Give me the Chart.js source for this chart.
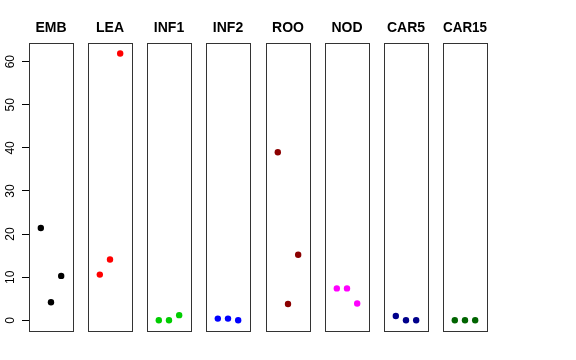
<!DOCTYPE html>
<html>
<head>
<meta charset="utf-8">
<script src="https://cdn.jsdelivr.net/npm/chart.js@4"></script>
<style>
  body { margin: 0; background: #fff; }
  #wrap { position: relative; width: 576px; height: 360px; }
  .panel { position: absolute; top: 0; }
</style>
</head>
<body>
<div id="wrap"></div>
<script>
// data
const groups = ['EMB', 'LEA', 'INF1', 'INF2', 'ROO', 'NOD', 'CAR5', 'CAR15'];
const colors = ['#000000', '#FF0000', '#00CD00', '#0000FF', '#8B0000', '#FF00FF', '#00008B', '#006400'];
const positions = [1, 2, 3];
const EMB = [21.4, 4.2, 10.3];
const LEA = [10.6, 14.1, 61.9];
const INF1 = [0, 0, 1.2];
const INF2 = [0.4, 0.4, 0];
const ROO = [39.0, 3.8, 15.2];
const NOD = [7.4, 7.4, 3.9];
const CAR5 = [1.0, 0, 0];
const CAR15 = [0, 0, 0];
const yTicks = [0, 10, 20, 30, 40, 50, 60];
const series = [EMB, LEA, INF1, INF2, ROO, NOD, CAR5, CAR15];

const FONT = 'Liberation Sans, Arial, Helvetica, sans-serif';

// draws the frame around each panel
const boxPlugin = {
  id: 'box',
  afterDatasetsDraw(chart) {
    const a = chart.chartArea;
    const ctx = chart.ctx;
    ctx.save();
    ctx.strokeStyle = '#333';
    ctx.lineWidth = 1;
    ctx.strokeRect(Math.round(a.left) + 0.5, Math.round(a.top) + 0.5,
                   Math.round(a.right - a.left), Math.round(a.bottom - a.top));
    ctx.restore();
  }
};

const wrap = document.getElementById('wrap');
const axisWidth = 29;
const panelW = 44;

groups.forEach((name, i) => {
  const left = Math.round(29 + i * 59.14);
  const first = i === 0;
  const canvas = document.createElement('canvas');
  canvas.className = 'panel';
  const w = first ? axisWidth + panelW + 2 : panelW + 4;
  canvas.width = w;
  canvas.height = 360;
  canvas.style.left = (first ? 0 : left - 2) + 'px';
  canvas.style.width = w + 'px';
  canvas.style.height = '360px';
  wrap.appendChild(canvas);

  new Chart(canvas, {
    type: 'scatter',
    data: {
      datasets: [{
        label: name,
        data: positions.map((x, k) => ({ x: x, y: series[i][k] })),
        backgroundColor: colors[i],
        borderColor: colors[i],
        borderWidth: 0,
        pointRadius: 3.2,
        pointHoverRadius: 3.2
      }]
    },
    options: {
      responsive: false,
      animation: false,
      devicePixelRatio: 1,
      layout: {
        autoPadding: false,
        padding: { top: 20, bottom: 29, left: first ? 0 : 2, right: 2 }
      },
      scales: {
        x: {
          type: 'linear',
          display: false,
          min: -0.16,
          max: 4.16
        },
        y: {
          type: 'linear',
          display: first,
          min: -2.48,
          max: 64.38,
          afterBuildTicks: (s) => { s.ticks = yTicks.map(v => ({ value: v })); },
          afterFit: (s) => { if (first) s.width = axisWidth; },
          border: { display: false },
          grid: {
            drawOnChartArea: false,
            drawTicks: true,
            tickLength: 7,
            color: '#000'
          },
          ticks: {
            minRotation: 90,
            maxRotation: 90,
            crossAlign: 'center',
            padding: 5,
            color: '#000',
            font: { family: FONT, size: 12 }
          }
        }
      },
      plugins: {
        legend: { display: false },
        tooltip: { enabled: false },
        title: {
          display: true,
          text: name,
          fullSize: false,
          color: '#000',
          padding: { top: 0, bottom: 6 },
          font: { family: FONT, size: 14, weight: 'bold' }
        }
      }
    },
    plugins: [boxPlugin]
  });
});
</script>
</body>
</html>
